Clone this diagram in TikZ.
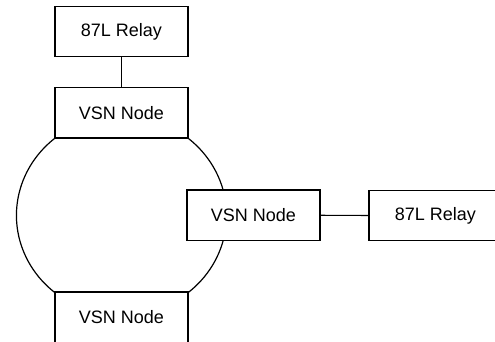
\documentclass[tikz,border=0pt]{standalone}
\usepackage{fontspec}
\setmainfont{Liberation Sans}
\usetikzlibrary{backgrounds}

\begin{document}
\begin{tikzpicture}[x=1pt,y=1pt,
    box/.style={draw=black, fill=white, line width=1.2pt,
                minimum width=133pt, minimum height=50.5pt, inner sep=0pt,
                font=\fontsize{18}{21}\selectfont},
    link/.style={draw=black, line width=1.2pt}]
  \useasboundingbox (0,0) rectangle (495,341);

  % relays and ring nodes
  \node[box] (relayA) at (121.5,309.5) {87L Relay};
  \node[box] (vsnA)   at (121.5,228.25) {VSN Node};
  \node[box] (vsnB)   at (253.5,125.75) {VSN Node};
  \node[box] (relayB) at (435.5,125.5) {87L Relay};
  \node[box] (vsnC)   at (121.5,23.75) {VSN Node};

  % relay links
  \draw[link] (relayA) -- (vsnA);
  \draw[link] (vsnB) -- (relayB);

  % ring between the nodes, behind the boxes
  \begin{scope}[on background layer]
    \draw[link] (vsnA.south west)
      arc[start angle=129.8, end angle=230.2, x radius=105.5, y radius=100];
    \draw[link] (vsnA.south east)
      arc[start angle=50.2, end angle=-50.2, x radius=105.5, y radius=100];
  \end{scope}
\end{tikzpicture}
\end{document}
